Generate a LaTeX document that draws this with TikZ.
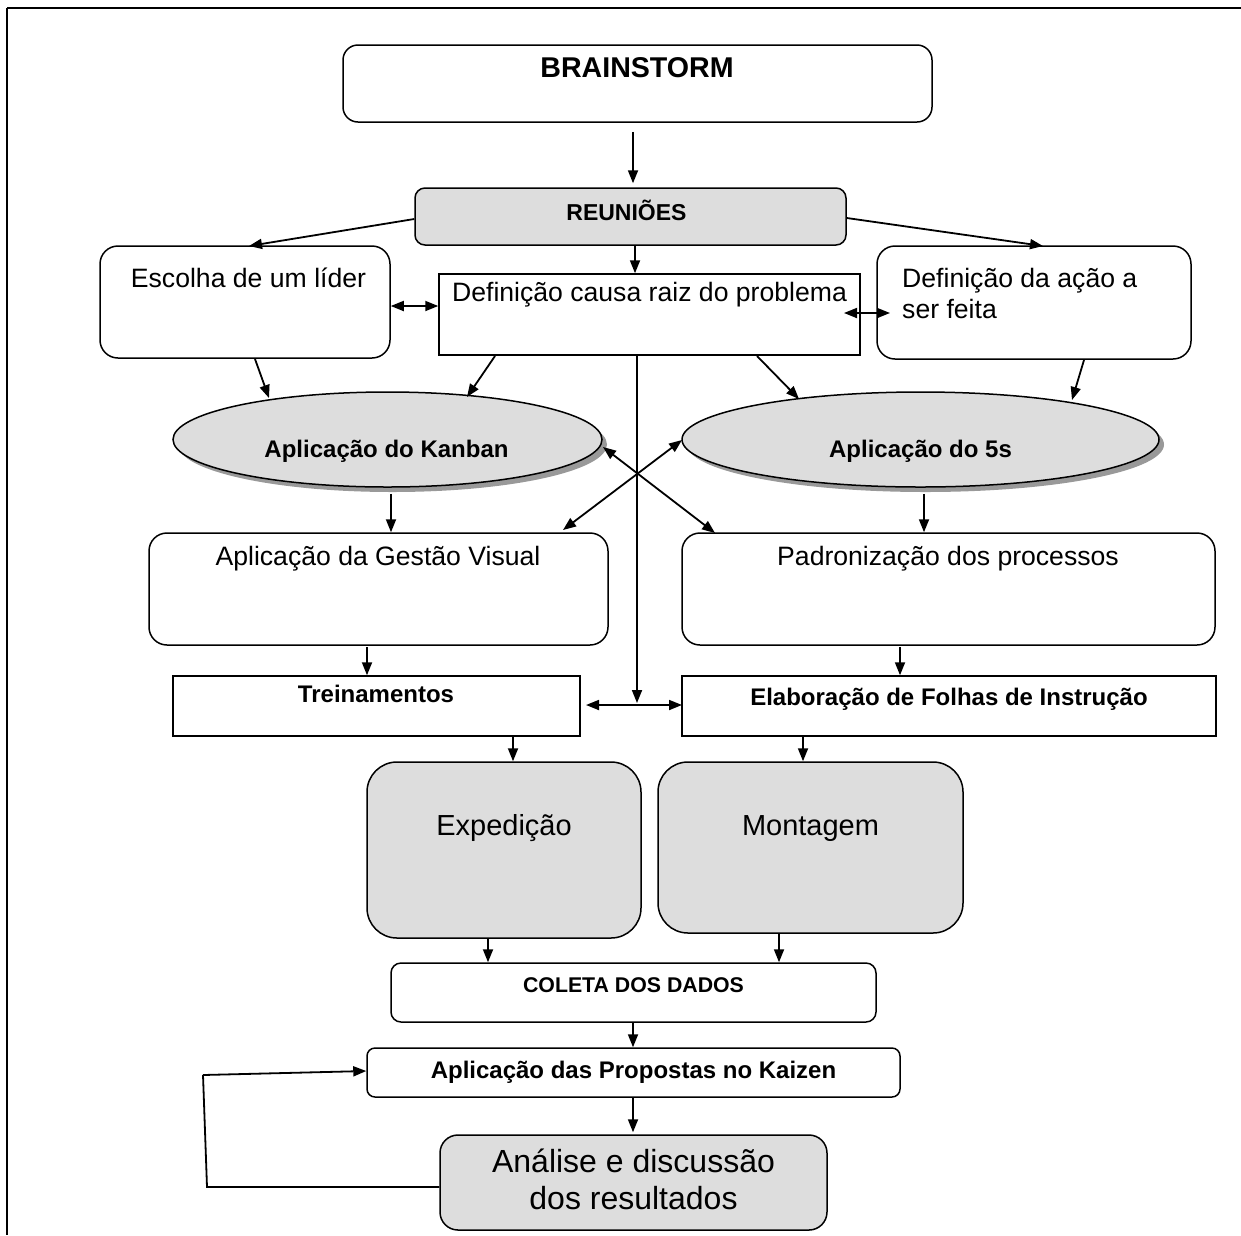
\documentclass[tikz,border=0pt]{standalone}
\usepackage{fontspec}
\setmainfont{Liberation Sans}
\usetikzlibrary{arrows.meta,shapes.geometric,shadows}
\definecolor{boxgray}{RGB}{221,221,221}
\begin{document}
\begin{tikzpicture}[x=1pt,y=-1pt,
  conn/.style={line width=1.8pt,-{Triangle[length=13pt,width=10pt]}},
  dconn/.style={line width=1.8pt,{Triangle[length=13pt,width=10pt]}-{Triangle[length=13pt,width=10pt]}},
  plain/.style={line width=1.8pt},
  box/.style={draw,line width=1.5pt,inner sep=0pt,fill=white},
  gbox/.style={box,fill=boxgray},
  oval/.style={ellipse,draw,line width=1.5pt,inner sep=0pt,fill=boxgray,
     drop shadow={shadow xshift=5pt,shadow yshift=-5pt,fill=gray!80,opacity=1}},
  txt/.style={inner sep=0pt,anchor=base},
  nrm/.style={font=\fontsize{26.6}{31}\selectfont},
  bld/.style={font=\fontsize{24}{28}\selectfont\bfseries},
  big/.style={font=\fontsize{29}{34}\selectfont},
  huge/.style={font=\fontsize{32}{38}\selectfont}
]
\useasboundingbox (0,0) rectangle (1241,1235);
% frame
\coordinate (fTL) at (7,8);
\coordinate (fTR) at (1241,8);
\coordinate (fBL) at (7,1235);
\draw[line width=2.8pt] (fTL) -- (fTR);
\draw[line width=2.2pt] (fTL) -- (fBL);

% boxes
\node[box,rounded corners=15pt,minimum width=589pt,minimum height=77pt] (brain) at (637.5,83.5) {};
\node[gbox,rounded corners=10pt,minimum width=431pt,minimum height=57pt] (reun) at (630.5,216.5) {};
\node[box,rounded corners=18pt,minimum width=290pt,minimum height=112pt] (escolha) at (245,302) {};
\node[box,minimum width=421pt,minimum height=81pt] (causa) at (649.5,314.5) {};
\node[box,rounded corners=18pt,minimum width=314pt,minimum height=113pt] (acao) at (1034,302.5) {};
\node[oval,minimum width=429pt,minimum height=95pt] (kanban) at (387.5,439.5) {};
\node[oval,minimum width=477pt,minimum height=95pt] (cinco) at (920.5,439.5) {};
\node[box,rounded corners=18pt,minimum width=459pt,minimum height=112pt] (gestao) at (378.5,589) {};
\node[box,rounded corners=18pt,minimum width=533pt,minimum height=112pt] (padron) at (948.5,589) {};
\node[box,minimum width=407pt,minimum height=60pt] (trein) at (376.5,706) {};
\node[box,minimum width=534pt,minimum height=60pt] (elab) at (949,706) {};
\node[gbox,rounded corners=30pt,minimum width=274pt,minimum height=176pt] (exped) at (504,850) {};
\node[gbox,rounded corners=30pt,minimum width=305pt,minimum height=171pt] (mont) at (810.5,847.5) {};
\node[box,rounded corners=10pt,minimum width=485pt,minimum height=59pt] (coleta) at (633.5,992.5) {};
\node[box,rounded corners=8pt,minimum width=533pt,minimum height=49pt] (kaizen) at (633.5,1072.5) {};
\node[gbox,rounded corners=18pt,minimum width=387pt,minimum height=95pt] (analise) at (633.5,1182.5) {};

% texts
\node[txt,font=\fontsize{28.6}{34}\selectfont\bfseries] (tbrain) at (637,77) {BRAINSTORM};
\node[txt,font=\fontsize{23}{27}\selectfont\bfseries] (treun) at (626.5,220) {REUNIÕES};
\node[txt,nrm] (tesc) at (248.5,287) {Escolha de um líder};
\node[txt,nrm] (tcausa) at (649.5,301) {Definição causa raiz do problema};
\node[txt,nrm,anchor=base west] (tacao1) at (902,287) {Definição da ação a};
\node[txt,nrm,anchor=base west] (tacao2) at (902,318) {ser feita};
\node[txt,bld] (tkan) at (386.5,457) {Aplicação do Kanban};
\node[txt,bld] (tcinco) at (920.5,457) {Aplicação do 5s};
\node[txt,nrm] (tgest) at (378,565) {Aplicação da Gestão Visual};
\node[txt,nrm] (tpad) at (948,565) {Padronização dos processos};
\node[txt,bld] (ttrein) at (376,702) {Treinamentos};
\node[txt,bld] (telab) at (949,705) {Elaboração de Folhas de Instrução};
\node[txt,big] (texp) at (504,835) {Expedição};
\node[txt,big] (tmont) at (810.5,835) {Montagem};
\node[txt,font=\fontsize{21.3}{25}\selectfont\bfseries] (tcol) at (633.5,992) {COLETA DOS DADOS};
\node[txt,bld] (tkai) at (633.5,1078) {Aplicação das Propostas no Kaizen};
\node[txt,huge] (tana1) at (633.5,1172) {Análise e discussão};
\node[txt,huge] (tana2) at (633.5,1209) {dos resultados};

% connectors
\draw[conn] ([yshift=-9pt]brain.south -| 633,0) -- ([yshift=4pt]reun.north -| 633,0);
\draw[conn] (reun.west |- 0,219) -- (249,246);
\draw[conn] (reun.east |- 0,218) -- (1043,246);
\draw[conn] (reun.south -| 635,0) -- (causa.north -| 635,0);
\draw[dconn] (escolha.east |- 0,306) -- (causa.west |- 0,306);
\draw[dconn] (844,313) -- (890,313);
\draw[conn] (255,359) -- (269,398);
\draw[conn] (495,356) -- (467,397);
\draw[conn] (757,356) -- (799,399);
\draw[conn] (1084,360) -- (1072,400);
\coordinate (cross) at (637,703);
\draw[conn] (causa.south -| cross) -- (cross);
\draw[dconn] (603,447) -- (715,533);
\draw[dconn] (682,440) -- (563,530);
\draw[conn] ([yshift=-6pt]kanban.south -| 391,0) -- (gestao.north -| 391,0);
\draw[conn] ([yshift=-6pt]cinco.south -| 924,0) -- (padron.north -| 924,0);
\draw[conn] (367,647) -- (trein.north -| 367,0);
\draw[conn] (900,647) -- (elab.north -| 900,0);
\draw[dconn] (586,705) -- (682,705);
\draw[conn] (trein.south -| 513,0) -- (exped.north -| 513,0);
\draw[conn] (elab.south -| 803,0) -- (mont.north -| 803,0);
\draw[conn] (exped.south -| 488,0) -- (coleta.north -| 488,0);
\draw[conn] (mont.south -| 779,0) -- (coleta.north -| 779,0);
\draw[conn] (coleta.south -| 633,0) -- (kaizen.north -| 633,0);
\draw[conn] (kaizen.south -| 633,0) -- ([yshift=2pt]analise.north -| 633,0);
\coordinate (lb) at (207,1187);
\coordinate (lt) at (203,1075);
\draw[plain] (analise.west |- lb) -- (lb) -- (lt);
\draw[conn] (lt) -- (kaizen.west |- 0,1071);
\end{tikzpicture}
\end{document}
